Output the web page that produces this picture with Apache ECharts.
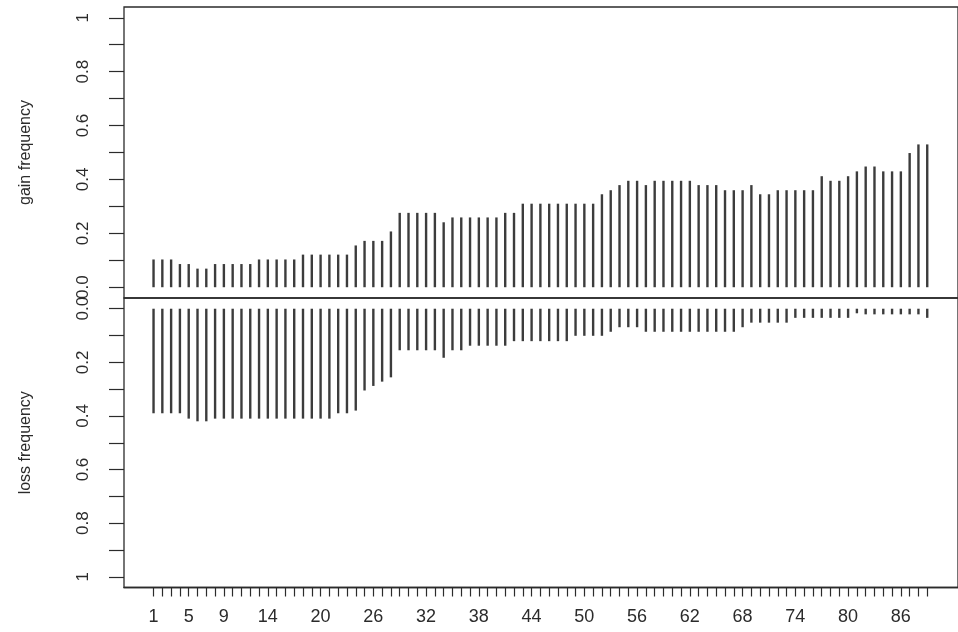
<!DOCTYPE html>
<html>
<head>
<meta charset="utf-8">
<script src="https://cdn.jsdelivr.net/npm/echarts@6/dist/echarts.min.js"></script>
<style>html,body{margin:0;padding:0;background:#fff;}#c{width:958px;height:632px;}</style>
</head>
<body>
<div id="c"></div>
<script>
const xValues = [1,2,3,4,5,6,7,8,9,10,11,12,13,14,15,16,17,18,19,20,21,22,23,24,25,26,27,28,29,30,31,32,33,34,35,36,37,38,39,40,41,42,43,44,45,46,47,48,49,50,51,52,53,54,55,56,57,58,59,60,61,62,63,64,65,66,67,68,69,70,71,72,73,74,75,76,77,78,79,80,81,82,83,84,85,86,87,88,89];
const xTickLabels = [1,5,9,14,20,26,32,38,44,50,56,62,68,74,80,86];
const yTickValues = [0,0.1,0.2,0.3,0.4,0.5,0.6,0.7,0.8,0.9,1];
const yTickLabels = [0,0.2,0.4,0.6,0.8,1];
const gainFreq = [0.103,0.103,0.103,0.086,0.086,0.069,0.069,0.086,0.086,0.086,0.086,0.086,0.103,0.103,0.103,0.103,0.103,0.121,0.121,0.121,0.121,0.121,0.121,0.155,0.172,0.172,0.172,0.207,0.276,0.276,0.276,0.276,0.276,0.241,0.259,0.259,0.259,0.259,0.259,0.259,0.276,0.276,0.310,0.310,0.310,0.310,0.310,0.310,0.310,0.310,0.310,0.345,0.360,0.379,0.395,0.395,0.379,0.395,0.395,0.395,0.395,0.395,0.379,0.379,0.379,0.360,0.360,0.360,0.379,0.345,0.345,0.360,0.360,0.360,0.360,0.360,0.412,0.395,0.395,0.412,0.430,0.448,0.448,0.430,0.430,0.430,0.498,0.530,0.530];
const lossFreq = [0.39,0.39,0.39,0.39,0.41,0.42,0.42,0.41,0.41,0.41,0.41,0.41,0.41,0.41,0.41,0.41,0.41,0.41,0.41,0.41,0.41,0.39,0.39,0.38,0.305,0.288,0.272,0.256,0.155,0.155,0.155,0.155,0.155,0.183,0.155,0.155,0.138,0.138,0.138,0.138,0.138,0.121,0.121,0.121,0.121,0.121,0.121,0.121,0.101,0.101,0.101,0.101,0.086,0.069,0.069,0.069,0.086,0.086,0.086,0.086,0.086,0.086,0.086,0.086,0.086,0.086,0.086,0.069,0.052,0.052,0.052,0.052,0.052,0.034,0.034,0.034,0.034,0.034,0.034,0.034,0.017,0.021,0.021,0.021,0.021,0.021,0.021,0.021,0.034];

const FONT = 'Liberation Sans';
const INK = '#2b2b2b';
const BAR = '#3c3c3c';
const X_MIN = -2.36, X_MAX = 92.5;

function fmtY(v){ if (v === 0) return '0.0'; if (v === 1) return '1'; return v.toFixed(1); }

const chart = echarts.init(document.getElementById('c'), null, {renderer:'canvas'});
const yAxisCommon = {
  type:'value', min:-0.04, max:1.04,
  axisLine:{show:false, onZero:false},
  splitLine:{show:false},
  axisTick:{show:true, customValues:yTickValues, length:15, lineStyle:{color:INK, width:1.2}},
  axisLabel:{show:true, customValues:yTickLabels, rotate:90, margin:32, formatter:fmtY,
             fontFamily:FONT, fontSize:17, color:INK},
  nameLocation:'middle', nameGap:90,
  nameTextStyle:{fontFamily:FONT, fontSize:16, color:INK}
};
const option = {
  animation:false,
  backgroundColor:'#fff',
  grid:[
    {left:124, right:-6, top:7, height:291, show:true, borderColor:INK, borderWidth:1.3, backgroundColor:'transparent'},
    {left:124, right:-6, top:298, height:289.5, show:true, borderColor:INK, borderWidth:1.3, backgroundColor:'transparent'}
  ],
  xAxis:[
    {gridIndex:0, type:'value', min:X_MIN, max:X_MAX, show:false, axisLine:{onZero:false}},
    {gridIndex:1, type:'value', min:X_MIN, max:X_MAX, position:'bottom',
     axisLine:{show:true, onZero:false, lineStyle:{color:INK, width:1.3}},
     splitLine:{show:false},
     axisTick:{show:true, customValues:xValues, length:9, lineStyle:{color:INK, width:1.2}},
     axisLabel:{show:true, customValues:xTickLabels, margin:21, fontFamily:FONT, fontSize:18, color:INK}}
  ],
  yAxis:[
    Object.assign({}, yAxisCommon, {gridIndex:0, name:'gain frequency'}),
    Object.assign({}, yAxisCommon, {gridIndex:1, name:'loss frequency', inverse:true})
  ],
  series:[
    {type:'bar', xAxisIndex:0, yAxisIndex:0, barWidth:2.4, itemStyle:{color:BAR},
     data: xValues.map((x,i)=>[x, gainFreq[i]])},
    {type:'bar', xAxisIndex:1, yAxisIndex:1, barWidth:2.4, itemStyle:{color:BAR},
     data: xValues.map((x,i)=>[x, lossFreq[i]])}
  ]
};
chart.setOption(option);
</script>
</body>
</html>
